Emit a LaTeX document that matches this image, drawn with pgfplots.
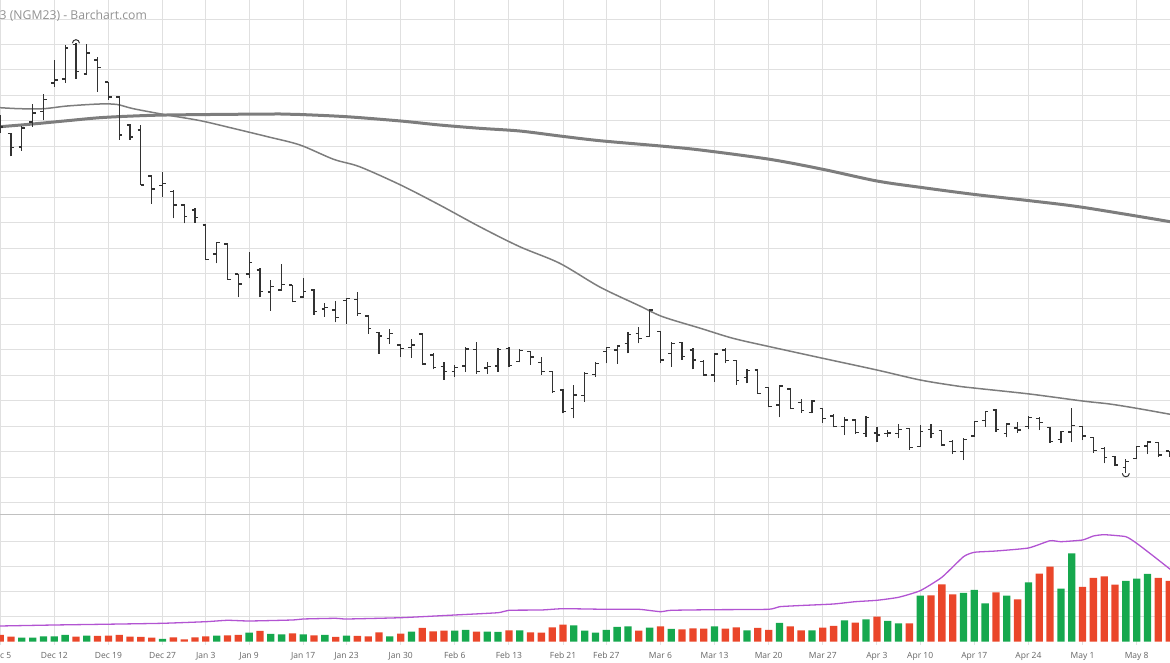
\documentclass[border=0pt]{standalone}
\usepackage{pgfplots}
\pgfplotsset{compat=1.18}
\usepackage{pgfplotstable}
\usepackage{fontspec}
\setmainfont{Open Sans}
\definecolor{gridc}{RGB}{224,224,224}
\definecolor{sepc}{RGB}{192,192,192}
\definecolor{barc}{RGB}{50,50,50}
\definecolor{mac}{RGB}{125,125,125}
\definecolor{upc}{RGB}{22,168,78}
\definecolor{dnc}{RGB}{234,70,42}
\definecolor{vmac}{RGB}{178,84,210}
\definecolor{titlec}{RGB}{145,145,145}
\definecolor{labc}{RGB}{100,100,100}

\pgfdeclareplotmark{hiarc}{\pgfpathmoveto{\pgfpoint{-3.5pt}{0pt}}\pgfpatharc{180}{0}{3.5pt}\pgfusepathqstroke}
\pgfdeclareplotmark{loarc}{\pgfpathmoveto{\pgfpoint{-3.5pt}{0pt}}\pgfpatharc{180}{360}{3.5pt}\pgfusepathqstroke}

% OHLC in chart rows (pixel rows from top of price panel)
\pgfplotstableread{
i o h l c
0 120 115 133 127
1 133.5 133 156.5 147.5
2 147 126 151 128
3 122 104.5 127 113
4 111.5 94.5 120.5 99.5
5 83 60 87 80
6 79 45 83 48
7 44.5 43 79 71.7
8 74 44.5 75 53
9 60 57.3 91.7 67.3
10 82 81.7 100 97
11 97 96 140 135
12 125 124 140 137
13 130 125 185 185
14 176 175 204 189
15 185.5 171.7 196.7 183.5
16 191.7 190 218.3 205
17 205 204.3 223.3 216.7
18 210 208.3 222.7 217.3
19 225 225 260 259.3
20 254 241.7 263.3 242.7
21 244 243.3 280 279.3
22 274 274 297.3 284
23 274 251.7 278.3 262.3
24 270 268.3 297.3 291.7
25 292 280 311 286.7
26 290 264.3 290 284.3
27 285 285 302.3 301.7
28 297 278.3 298.3 291.7
29 290 289.3 315 311.7
30 309 303.3 316.7 307.7
31 310 300.7 322.3 317.7
32 300.5 297.7 324 298.3
33 299.3 291.7 316 313.3
34 316 315 334 328.3
35 332.5 331.7 354 336
36 338.3 329 344 333.3
37 345 344 356.7 348.3
38 347.3 339 357.7 345
39 334 333.3 365 364
40 355 353.3 369.3 367.3
41 366.7 361.7 380 371.7
42 371.7 365 376.7 367.3
43 366 347.3 371.7 349
44 349.3 341.7 374 371.7
45 368 361.7 374 366.5
46 366 347.7 371.7 349.3
47 348.3 346.7 366.7 365.7
48 361.7 349 362.3 350.7
49 351.5 350.7 365 357
50 362.7 356.7 375 371.7
51 371.7 370.7 392.7 391.7
52 390 389.3 413.3 411.7
53 408.3 385 418.3 395
54 395.7 372.3 401.7 373.3
55 374.3 361.7 376.7 363.3
56 351.7 346.7 363.3 347.3
57 350 345 364 346
58 343.3 331.7 353.3 334.3
59 333.3 326.7 343.3 338.3
60 336.7 309 336.7 310
61 331.7 330.7 363.3 360
62 353.3 341.7 366.7 343.3
63 342.7 341.7 360 356.7
64 350 348.3 369.3 360
65 361.7 360 376 375
66 375 353.3 381.7 354
67 350 348.3 363.3 360.7
68 360.7 360 385 380.7
69 377.3 369 383.3 370.7
70 370 370 394 393.3
71 387.3 386.7 407.3 406.7
72 405 385 417.3 386
73 389 388.3 409.3 408.3
74 402.7 399.3 412.7 410.7
75 412.7 400 413.3 401
76 408.3 408.3 422.7 418.3
77 416 414.3 427.3 426.7
78 426.7 416.7 435 420
79 420 419.3 434 432.7
80 433.3 416 436.7 417.7
81 433 426.7 441.7 435
82 433.5 430 436.7 433
83 433.3 424.3 438.3 429.3
84 428.3 427.7 450 447.7
85 446.7 425 446.7 431.7
86 429.3 424.3 438.3 433.3
87 430.7 430 446 445
88 441.7 440 454 451.7
89 451.7 438.3 460 439.3
90 436 420.7 436.7 421.3
91 420.7 410.7 426.7 411.7
92 410 409.3 431.7 429.3
93 433.3 422.7 437.3 424
94 428 421.7 432.7 430
95 426.7 416 429.3 417.3
96 418.3 417.3 430 422.7
97 427.3 426.7 442.7 441.7
98 439.3 430.7 443.3 431.7
99 432 408.3 441.7 425.7
100 426.7 426.7 440 436
101 437.3 436.7 452.7 450.7
102 448.3 447.3 463.3 457.3
103 456.7 456 466 465
104 467.3 459 473 461.7
105 458.3 446 459.3 446.7
106 446 440.7 454 442
107 442.7 441.7 456.7 455
108 451 450.7 456.7 454
}\ohlc

\begin{document}
\begin{tikzpicture}
\useasboundingbox (0,0) rectangle (1170pt,663pt);
\clip (0,0) rectangle (1170pt,663pt);
\pgfplotsset{
  base/.style={scale only axis, width=1170pt, xmin=-0.017, xmax=108.08,
    axis line style={draw=none}, major tick length=0pt, grid=major,
    major grid style={gridc, line width=0.9pt},
    xtick={0,5,10,15,19,23,28,32,37,42,47,52,56,61,66,71,76,81,85,90,95,100,105},
    clip=true}
}
% ---------------- price panel ----------------
\begin{axis}[base, at={(0pt,148.7pt)}, anchor=south west, height=514.3pt,
  y dir=reverse, ymin=0, ymax=514.3, xticklabels={}, yticklabels={},
  ytick={19,44.45,...,505}]
% moving averages
\addplot[mac, line width=3pt, smooth, tension=0.5] coordinates {
(0,126.7) (3,124) (6.2,120.7) (9.2,117.7) (12.3,116) (15.4,115) (21.5,114.3)
(25.9,114) (27.7,114.5) (32,116.7) (37,121) (40.6,125) (44.3,128.3) (48,131)
(51.7,136) (55.4,140.7) (61,146) (64.7,150) (71.1,159.3) (76,169.3) (81,181)
(85,187.3) (89.9,194.3) (95.1,200.7) (100,207.3) (108.1,221.7)};
\addplot[mac, line width=1.5pt, smooth, tension=0.5] coordinates {
(0,107.7) (1.8,108.7) (4,108.7) (6.2,106) (9.2,104) (10.8,104.5) (12.3,108.7)
(15.4,115) (18.5,120.7) (21.5,128.3) (24.7,136.7) (27.7,145) (30.8,159.3)
(33.2,166.7) (37,185) (40.6,205) (44.3,226.7) (48,246.7) (51.7,263.3) (55.4,287)
(59.1,306) (61.2,316.7) (64.7,328.3) (67.7,338.3) (71.1,346.7) (76,358.3)
(81,370) (85,380) (88.4,386) (90.2,388.3) (95.1,394) (100,401) (102.5,404)
(105,408.3) (108.1,414.3)};
% OHLC bars
\addplot[barc, line width=1.2pt, quiver={u=0, v=\thisrow{h}-\thisrow{l}}] table[x=i, y=l]{\ohlc};
\addplot[barc, line width=1.2pt, quiver={u=0.3, v=0}] table[x expr=\thisrow{i}-0.3, y=o]{\ohlc};
\addplot[barc, line width=1.2pt, quiver={u=0.3, v=0}] table[x=i, y=c]{\ohlc};
\addplot[only marks, mark=hiarc, mark options={barc, line width=1pt}] coordinates {(7,43.2)};
\addplot[only marks, mark=loarc, mark options={barc, line width=1pt}] coordinates {(104,473.3)};
\end{axis}
% ---------------- volume panel ----------------
\begin{axis}[base, at={(0pt,18pt)}, anchor=south west, height=130.7pt,
  ymin=-3.3, ymax=127.4, ytick={25,50,75,100}, yticklabels={},
  xticklabels={Dec 5,Dec 12,Dec 19,Dec 27,Jan 3,Jan 9,Jan 17,Jan 23,Jan 30,Feb 6,Feb 13,Feb 21,Feb 27,Mar 6,Mar 13,Mar 20,Mar 27,Apr 3,Apr 10,Apr 17,Apr 24,May 1,May 8},
  xticklabel style={font=\fontsize{8.5}{10}\selectfont, text=labc, yshift=-4pt}]
\addplot[ybar, bar shift=0pt, bar width=7.3pt, fill=dnc, draw=none] coordinates {
(0,6.7) (1,5) (7,5) (9,5.7) (10,6) (11,6.7) (12,5) (13,4.7) (14,4) (16,4.3)
(17,2.3) (18,4.3) (19,5.3) (21,6.3) (22,6.7) (24,10.7) (27,8.3) (29,6.3) (31,4.7)
(33,5.7) (34,5.3) (35,9.3) (37,8) (39,13.7) (40,10.3) (41,11) (44,10) (47,11.3)
(49,9.3) (50,9) (51,14.3) (52,17) (59,11) (61,15.3) (63,12.3) (64,13.3) (65,13)
(67,13) (68,14.3) (70,13.7) (71,11.7) (73,15.3) (74,11.3) (76,14) (77,15.7)
(79,19) (81,25) (84,18.3) (86,46.3) (87,57.3) (88,47.3) (92,49.3) (94,42.3)
(96,68) (97,75) (100,54.7) (101,63.7) (102,65.3) (103,57) (107,63.7) (108,60.7)};
\addplot[ybar, bar shift=0pt, bar width=7.3pt, fill=upc, draw=none] coordinates {
(2,4) (3,4) (4,5.3) (5,5.3) (6,6.7) (8,6) (15,2.7) (20,6) (23,9) (25,7.7)
(26,7.3) (28,7.3) (30,6.7) (32,6) (36,5.3) (38,10) (42,11) (43,11.7) (45,10)
(46,9.7) (48,11.3) (53,16.3) (54,11) (55,9) (56,11.7) (57,14.7) (58,15.3)
(60,14) (62,12.7) (66,15.3) (69,11.3) (72,18.7) (75,11.3) (78,21.3) (80,22.3)
(82,20.7) (83,18.3) (85,46) (89,48.7) (90,51.7) (91,38.3) (93,46) (95,59.3)
(98,53) (99,88.3) (104,60.7) (105,63) (106,67.7)};
\addplot[vmac, line width=1.3pt, smooth, tension=0.3] coordinates {
(0,15.7) (5,16.7) (10,17.5) (15,18.4) (19,20) (21,21.4) (23,20.7) (27,21.7)
(28,22.7) (31,23.4) (32,22.7) (37,24) (42,26.7) (46,29) (47,31.4) (50,31.7)
(52,33) (56,32.4) (59,32.4) (61,30) (62,31.4) (66,32) (71,32.4) (72,35)
(74,36.2) (77,37.7) (79,40) (81,41.4) (83,44.4) (85,51) (87,64.4) (89,85)
(90,89.4) (92,90.7) (95,93.7) (97,101) (98,100) (100,101.7) (101,105.7)
(102,107) (104,105) (105,98.4) (106.5,86) (108.1,72.4)};
\end{axis}
\draw[sepc, line width=1.5pt] (0pt,148.7pt) -- (1170pt,148.7pt);
\node[anchor=west, text=titlec, font=\fontsize{12.2}{14}\selectfont, inner sep=0pt] at (-0.5pt,647.5pt) {3 (NGM23) - Barchart.com};
\end{tikzpicture}
\end{document}
